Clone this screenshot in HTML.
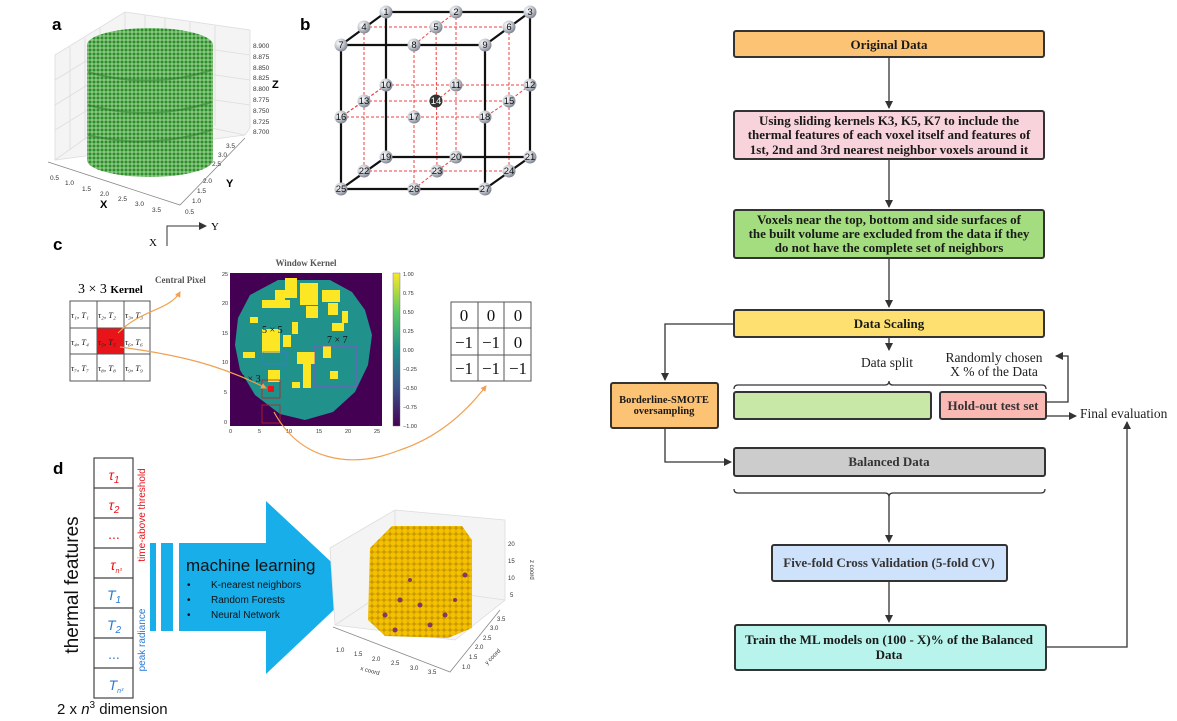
<!DOCTYPE html>
<html><head><meta charset="utf-8"><style>
html,body{margin:0;padding:0;background:#fff;}
svg{display:block;}
.fc{font-family:"Liberation Serif",serif;font-weight:bold;font-size:13px;fill:#1a1a1a;}
.sf{font-family:"Liberation Serif",serif;}
.ss{font-family:"Liberation Sans",sans-serif;}
</style></head><body>
<svg width="1177" height="721" viewBox="0 0 1177 721" xmlns="http://www.w3.org/2000/svg">
<defs>
<marker id="ah" markerWidth="8" markerHeight="8" refX="7" refY="4" orient="auto" markerUnits="userSpaceOnUse"><path d="M0,0 L8,4 L0,8 Z" fill="#333"/></marker>
<marker id="oh" markerWidth="6" markerHeight="6" refX="5" refY="3" orient="auto" markerUnits="userSpaceOnUse"><path d="M0,0 L6,3 L0,6 Z" fill="#f0a050"/></marker>
<pattern id="gd" width="4" height="4" patternUnits="userSpaceOnUse"><rect width="4" height="4" fill="#8cc884"/><circle cx="2" cy="2" r="1.5" fill="#2a8f2a"/></pattern>
<pattern id="yd" width="6" height="6" patternUnits="userSpaceOnUse"><rect width="6" height="6" fill="#c99a00"/><circle cx="3" cy="3" r="2.8" fill="#f5c000"/></pattern>
<linearGradient id="cb" x1="0" y1="1" x2="0" y2="0"><stop offset="0" stop-color="#440154"/><stop offset=".25" stop-color="#3b528b"/><stop offset=".5" stop-color="#21918c"/><stop offset=".75" stop-color="#5ec962"/><stop offset="1" stop-color="#fde725"/></linearGradient>
<radialGradient id="ball" cx=".35" cy=".35" r=".7"><stop offset="0" stop-color="#fff"/><stop offset=".5" stop-color="#c8ccd4"/><stop offset="1" stop-color="#7a808a"/></radialGradient>
</defs>

<!-- ========== Panel a ========== -->
<text x="52" y="30" class="ss" font-weight="bold" font-size="17">a</text>
<g stroke="#ddd" stroke-width="0.8" fill="none">
<path d="M55,55 L125,12 L250,30 L250,128 L245,135 L55,160 Z" fill="#f4f4f4"/>
<path d="M125,12 L125,110 L55,160 M125,110 L245,135"/>
<path d="M70,47 L70,150 M85,38 L85,140 M100,28 L100,130 M145,15 L145,113 M165,18 L165,117 M190,22 L190,122 M215,26 L215,126"/>
<path d="M55,80 L125,37 L250,55 M55,105 L125,62 L250,80 M55,130 L125,87 L250,105"/>
</g>
<path d="M48,162 L180,205 L245,138" stroke="#888" fill="none" stroke-width="0.8"/>
<g fill="url(#gd)">
<ellipse cx="150" cy="160" rx="63" ry="17"/>
<rect x="87" y="45" width="126" height="115"/>
<ellipse cx="150" cy="45" rx="63" ry="17"/>
</g>
<g stroke="#2a7a2a" stroke-width="2" fill="none" opacity=".5"><path d="M88,72 Q150,90 212,70 M88,105 Q150,122 212,102 M88,135 Q150,150 212,130"/></g>
<g class="ss" font-size="6.5" fill="#333">
<text x="253" y="48">8.900</text><text x="253" y="59">8.875</text><text x="253" y="70">8.850</text><text x="253" y="80">8.825</text><text x="253" y="91">8.800</text><text x="253" y="102">8.775</text><text x="253" y="113">8.750</text><text x="253" y="124">8.725</text><text x="253" y="134">8.700</text>
<text x="50" y="180">0.5</text><text x="65" y="185">1.0</text><text x="82" y="191">1.5</text><text x="100" y="196">2.0</text><text x="118" y="201">2.5</text><text x="135" y="206">3.0</text><text x="152" y="212">3.5</text>
<text x="185" y="214">0.5</text><text x="192" y="203">1.0</text><text x="197" y="193">1.5</text><text x="203" y="183">2.0</text><text x="212" y="166">2.5</text><text x="218" y="157">3.0</text><text x="226" y="148">3.5</text>
</g>
<text x="272" y="88" class="ss" font-weight="bold" font-size="11">Z</text>
<text x="100" y="208" class="ss" font-weight="bold" font-size="11">X</text>
<text x="226" y="187" class="ss" font-weight="bold" font-size="11">Y</text>
<path d="M167,246 L167,226 L206,226" stroke="#333" fill="none" stroke-width="1" marker-end="url(#ah)"/>
<text x="211" y="230" class="sf" font-size="11">Y</text>
<text x="149" y="246" class="sf" font-size="11">X</text>

<!-- ========== Panel b ========== -->
<text x="300" y="30" class="ss" font-weight="bold" font-size="17">b</text>
<g stroke="#f04040" stroke-width="1" stroke-dasharray="3,2" fill="none">
<path d="M364,27 L509,27 M364,101 L509,101 M364,171 L509,171 M386,85 L530,85 M341,117 L485,117 M456,12 L436,27 L414,45 M530,85 L509,101 L485,117 M456,157 L437,171 L414,189 M386,85 L364,101 L341,117"/>
<path d="M364,27 L364,171 M436,27 L437,171 M509,27 L509,171 M414,45 L414,189 M456,12 L456,157 M386,85 L341,117 M436,101 L456,85"/>
</g>
<g stroke="#111" stroke-width="2.2" fill="none">
<path d="M341,45 L485,45 L485,189 L341,189 Z M386,12 L530,12 L530,157 M386,12 L386,157 L530,157 M386,12 L341,45 M530,12 L485,45 M530,157 L485,189 M386,157 L341,189"/>
</g>
<g class="ss" font-size="9.5" text-anchor="middle" fill="#111">
<g fill="url(#ball)">
<circle cx="386" cy="12" r="6.5"/><circle cx="456" cy="12" r="6.5"/><circle cx="530" cy="12" r="6.5"/>
<circle cx="364" cy="27" r="6.5"/><circle cx="436" cy="27" r="6.5"/><circle cx="509" cy="27" r="6.5"/>
<circle cx="341" cy="45" r="6.5"/><circle cx="414" cy="45" r="6.5"/><circle cx="485" cy="45" r="6.5"/>
<circle cx="386" cy="85" r="6.5"/><circle cx="456" cy="85" r="6.5"/><circle cx="530" cy="85" r="6.5"/>
<circle cx="364" cy="101" r="6.5"/><circle cx="509" cy="101" r="6.5"/>
<circle cx="341" cy="117" r="6.5"/><circle cx="414" cy="117" r="6.5"/><circle cx="485" cy="117" r="6.5"/>
<circle cx="386" cy="157" r="6.5"/><circle cx="456" cy="157" r="6.5"/><circle cx="530" cy="157" r="6.5"/>
<circle cx="364" cy="171" r="6.5"/><circle cx="437" cy="171" r="6.5"/><circle cx="509" cy="171" r="6.5"/>
<circle cx="341" cy="189" r="6.5"/><circle cx="414" cy="189" r="6.5"/><circle cx="485" cy="189" r="6.5"/>
</g>
<circle cx="436" cy="101" r="6.5" fill="#333"/>
<text x="386" y="15">1</text><text x="456" y="15">2</text><text x="530" y="15">3</text>
<text x="364" y="30">4</text><text x="436" y="30">5</text><text x="509" y="30">6</text>
<text x="341" y="48">7</text><text x="414" y="48">8</text><text x="485" y="48">9</text>
<text x="386" y="88">10</text><text x="456" y="88">11</text><text x="530" y="88">12</text>
<text x="364" y="104">13</text><text x="436" y="104" fill="#fff">14</text><text x="509" y="104">15</text>
<text x="341" y="120">16</text><text x="414" y="120">17</text><text x="485" y="120">18</text>
<text x="386" y="160">19</text><text x="456" y="160">20</text><text x="530" y="160">21</text>
<text x="364" y="174">22</text><text x="437" y="174">23</text><text x="509" y="174">24</text>
<text x="341" y="192">25</text><text x="414" y="192">26</text><text x="485" y="192">27</text>
</g>

<!-- ========== Panel c ========== -->
<text x="53" y="250" class="ss" font-weight="bold" font-size="17">c</text>
<text x="78" y="293" class="sf" font-size="14">3 × 3 <tspan font-size="11" font-weight="bold">Kernel</tspan></text>
<text x="155" y="283" class="sf" font-size="9" font-weight="bold" fill="#555">Central Pixel</text>
<rect x="97" y="328" width="27" height="26" fill="#e8141a"/>
<g stroke="#555" stroke-width="1" fill="none"><rect x="70" y="301" width="80" height="80"/><path d="M97,301V381M124,301V381M70,328H150M70,354H150"/></g>
<g class="sf" font-size="8.5" font-style="italic" fill="#222">
<text x="71" y="318">τ₁, T₁</text><text x="98" y="318">τ₂, T₂</text><text x="125" y="318">τ₃, T₃</text>
<text x="71" y="345">τ₄, T₄</text><text x="98" y="345">τ₅, T₅</text><text x="125" y="345">τ₆, T₆</text>
<text x="71" y="371">τ₇, T₇</text><text x="98" y="371">τ₈, T₈</text><text x="125" y="371">τ₉, T₉</text>
</g>
<path d="M118,333 C140,310 170,310 180,292" stroke="#f0a050" fill="none" stroke-width="1.2" marker-end="url(#oh)"/>
<text x="306" y="266" class="sf" font-size="9" font-weight="bold" fill="#555" text-anchor="middle">Window Kernel</text>
<rect x="230" y="273" width="152" height="153" fill="#440154"/>
<path d="M278,280 L330,280 L352,292 L365,310 L372,335 L368,365 L355,392 L333,412 L305,420 L280,414 L255,395 L240,370 L235,345 L238,318 L250,295 Z" fill="#21918c"/>
<g fill="#fde725">
<rect x="285" y="278" width="12" height="20"/><rect x="300" y="283" width="18" height="22"/><rect x="262" y="300" width="28" height="8"/><rect x="275" y="290" width="10" height="10"/><rect x="322" y="290" width="18" height="12"/><rect x="328" y="303" width="10" height="12"/><rect x="250" y="317" width="8" height="6"/><rect x="306" y="306" width="12" height="12"/><rect x="342" y="311" width="6" height="12"/><rect x="332" y="323" width="12" height="8"/>
<rect x="262" y="329" width="18" height="24"/><rect x="283" y="335" width="8" height="12"/><rect x="292" y="322" width="6" height="12"/><rect x="297" y="352" width="18" height="12"/><rect x="303" y="364" width="8" height="24"/><rect x="323" y="346" width="8" height="12"/><rect x="268" y="370" width="12" height="12"/><rect x="330" y="371" width="8" height="8"/><rect x="243" y="352" width="12" height="6"/><rect x="292" y="382" width="8" height="6"/>
</g>
<g fill="none" stroke-width="0.8">
<rect x="263" y="352" width="24" height="12" stroke="#3a7bd5"/>
<rect x="315" y="346" width="41" height="41" stroke="#a040e0"/>
<rect x="262" y="380" width="18" height="18" stroke="#c02020"/>
<rect x="262" y="405" width="18" height="18" stroke="#c02020"/>
</g>
<rect x="268" y="386" width="6" height="6" fill="#e8141a"/>
<text x="262" y="333" class="sf" font-size="10" fill="#111">5 × 5</text>
<text x="327" y="343" class="sf" font-size="10" fill="#111">7 × 7</text>
<text x="240" y="382" class="sf" font-size="10" fill="#111">3 × 3</text>
<g class="ss" font-size="5.5" fill="#333">
<text x="222" y="276">25</text><text x="222" y="305">20</text><text x="222" y="335">15</text><text x="222" y="364">10</text><text x="224" y="394">5</text><text x="224" y="424">0</text>
<text x="229" y="433">0</text><text x="258" y="433">5</text><text x="286" y="433">10</text><text x="316" y="433">15</text><text x="345" y="433">20</text><text x="374" y="433">25</text>
</g>
<rect x="393" y="273" width="7" height="153" fill="url(#cb)" stroke="#666" stroke-width=".4"/>
<g class="ss" font-size="5.5" fill="#333">
<text x="403" y="276">1.00</text><text x="403" y="295">0.75</text><text x="403" y="314">0.50</text><text x="403" y="333">0.25</text><text x="403" y="352">0.00</text><text x="403" y="371">−0.25</text><text x="403" y="390">−0.50</text><text x="403" y="409">−0.75</text><text x="403" y="428">−1.00</text>
</g>
<path d="M120,347 C180,355 220,365 266,388" stroke="#f0a050" fill="none" stroke-width="1.2" marker-end="url(#oh)"/>
<path d="M274,412 C300,460 350,470 400,450 C430,440 460,420 486,386" stroke="#f0a050" fill="none" stroke-width="1.2" marker-end="url(#oh)"/>
<g stroke="#555" stroke-width="1" fill="none"><rect x="451" y="302" width="80" height="79"/><path d="M478,302V381M504,302V381M451,328H531M451,355H531"/></g>
<g class="sf" font-size="17" fill="#111" text-anchor="middle">
<text x="464" y="321">0</text><text x="491" y="321">0</text><text x="518" y="321">0</text>
<text x="464" y="348">−1</text><text x="491" y="348">−1</text><text x="518" y="348">0</text>
<text x="464" y="374">−1</text><text x="491" y="374">−1</text><text x="518" y="374">−1</text>
</g>

<!-- ========== Panel d ========== -->
<text x="53" y="474" class="ss" font-weight="bold" font-size="17">d</text>
<g stroke="#444" stroke-width="1.2" fill="none"><rect x="94" y="458" width="39" height="240"/><path d="M94,488H133M94,518H133M94,548H133M94,578H133M94,608H133M94,638H133M94,668H133"/></g>
<g class="ss" font-size="14" font-style="italic" text-anchor="middle">
<text x="114" y="480" fill="#e8141a">τ<tspan font-size="10" dy="3">1</tspan></text>
<text x="114" y="510" fill="#e8141a">τ<tspan font-size="10" dy="3">2</tspan></text>
<text x="114" y="539" fill="#e8141a" font-style="normal">...</text>
<text x="116" y="570" fill="#e8141a">τ<tspan font-size="7" dy="3">n³</tspan></text>
<text x="114" y="600" fill="#2a7ad5">T<tspan font-size="10" dy="3">1</tspan></text>
<text x="114" y="630" fill="#2a7ad5">T<tspan font-size="10" dy="3">2</tspan></text>
<text x="114" y="659" fill="#2a7ad5" font-style="normal">...</text>
<text x="116" y="690" fill="#2a7ad5">T<tspan font-size="7" dy="3">n³</tspan></text>
</g>
<text transform="translate(78,585) rotate(-90)" class="ss" font-size="19" text-anchor="middle" fill="#111">thermal features</text>
<text transform="translate(145,515) rotate(-90)" class="ss" font-size="10" text-anchor="middle" fill="#e8141a">time-above threshold</text>
<text transform="translate(145,640) rotate(-90)" class="ss" font-size="10" text-anchor="middle" fill="#2a7ad5">peak radiance</text>
<text x="57" y="714" class="ss" font-size="15" fill="#111">2 x <tspan font-style="italic">n</tspan><tspan font-size="10" dy="-6">3</tspan><tspan dy="6"> dimension</tspan></text>
<g fill="#17aeea">
<rect x="150" y="543" width="6" height="88"/><rect x="161" y="543" width="12" height="88"/>
<path d="M179,543 L266,543 L266,501 L358,587 L266,674 L266,631 L179,631 Z"/>
</g>
<text x="186" y="571" class="ss" font-size="17" fill="#111">machine learning</text>
<g class="ss" font-size="10" fill="#111">
<text x="187" y="588">•</text><text x="211" y="588">K-nearest neighbors</text>
<text x="187" y="603">•</text><text x="211" y="603">Random Forests</text>
<text x="187" y="618">•</text><text x="211" y="618">Neural Network</text>
</g>
<g stroke="#ddd" stroke-width=".8" fill="none">
<path d="M330,548 L395,510 L505,520 L505,600 L455,640 L335,625 Z" fill="#f4f4f4"/>
<path d="M395,510 L395,585 L335,625 M395,585 L505,600"/>
</g>
<path d="M333,627 L450,672 L500,610" stroke="#888" fill="none" stroke-width=".8"/>
<path d="M370,548 L392,526 L462,526 L472,540 L472,628 L448,638 L385,636 L368,620 Z" fill="url(#yd)"/>
<g fill="#6a1a7a" opacity=".8"><circle cx="400" cy="600" r="2.5"/><circle cx="420" cy="605" r="2.5"/><circle cx="445" cy="615" r="2.5"/><circle cx="385" cy="615" r="2.5"/><circle cx="465" cy="575" r="2.5"/><circle cx="410" cy="580" r="2"/><circle cx="430" cy="625" r="2.5"/><circle cx="455" cy="600" r="2"/><circle cx="395" cy="630" r="2.5"/></g>
<g class="ss" font-size="6" fill="#333">
<text x="336" y="652">1.0</text><text x="354" y="656">1.5</text><text x="372" y="661">2.0</text><text x="391" y="665">2.5</text><text x="410" y="670">3.0</text><text x="428" y="674">3.5</text>
<text x="462" y="669">1.0</text><text x="469" y="659">1.5</text><text x="475" y="649">2.0</text><text x="483" y="640">2.5</text><text x="490" y="630">3.0</text><text x="497" y="621">3.5</text>
<text x="508" y="546">20</text><text x="508" y="563">15</text><text x="508" y="580">10</text><text x="510" y="597">5</text>
<text transform="translate(360,670) rotate(15)">x coord</text>
<text transform="translate(487,665) rotate(-45)">y coord</text>
<text transform="translate(530,560) rotate(90)">z coord</text>
</g>

<!-- ========== Flowchart ========== -->
<g stroke="#333" stroke-width="1.3" fill="none">
<line x1="889" y1="57" x2="889" y2="108" marker-end="url(#ah)"/>
<line x1="889" y1="159" x2="889" y2="207" marker-end="url(#ah)"/>
<line x1="889" y1="258" x2="889" y2="307" marker-end="url(#ah)"/>
<line x1="889" y1="337" x2="889" y2="350" marker-end="url(#ah)"/>
<path d="M734,324 L665,324 L665,380" marker-end="url(#ah)"/>
<path d="M665,428 L665,462 L731,462" marker-end="url(#ah)"/>
<path d="M1046,402 L1068,402 L1068,356 L1056,356" marker-end="url(#ah)"/>
<path d="M1046,416 L1076,416" marker-end="url(#ah)"/>
<path d="M734,389 Q734,385 738,385 L885,385 Q889,385 889,381 Q889,385 893,385 L1042,385 Q1046,385 1046,389"/>
<path d="M734,489 Q734,493 738,493 L885,493 Q889,493 889,497 Q889,493 893,493 L1041,493 Q1045,493 1045,489"/>
<line x1="889" y1="497" x2="889" y2="542" marker-end="url(#ah)"/>
<line x1="889" y1="581" x2="889" y2="622" marker-end="url(#ah)"/>
<path d="M1046,647 L1127,647 L1127,422" marker-end="url(#ah)"/>
</g>
<g stroke="#333" stroke-width="2">
<rect x="734" y="31" width="310" height="26" rx="2" fill="#fdc375"/>
<rect x="734" y="111" width="310" height="48" rx="2" fill="#f9d3dc"/>
<rect x="734" y="210" width="310" height="48" rx="2" fill="#a4dd7f"/>
<rect x="734" y="310" width="310" height="27" rx="2" fill="#fde06f"/>
<rect x="611" y="383" width="107" height="45" rx="2" fill="#fdc375"/>
<rect x="734" y="392" width="197" height="27" rx="2" fill="#c8e8a8"/>
<rect x="940" y="392" width="106" height="27" rx="2" fill="#fbb9b4"/>
<rect x="734" y="448" width="311" height="28" rx="2" fill="#cccccc"/>
<rect x="772" y="545" width="235" height="36" rx="2" fill="#cfe2fb"/>
<rect x="735" y="625" width="311" height="45" rx="2" fill="#b8f3ec"/>
</g>
<g class="fc" text-anchor="middle">
<text x="889" y="49">Original Data</text>
<text x="889" y="125">Using sliding kernels K3, K5, K7 to include the</text>
<text x="889" y="139">thermal features of each voxel itself and features of</text>
<text x="889" y="154">1st, 2nd and 3rd nearest neighbor voxels around it</text>
<text x="889" y="224">Voxels near the top, bottom and side surfaces of</text>
<text x="889" y="238">the built volume are excluded from the data if they</text>
<text x="889" y="252">do not have the complete set of neighbors</text>
<text x="889" y="328">Data Scaling</text>
<text x="664" y="403" font-size="10.5">Borderline-SMOTE</text>
<text x="664" y="414" font-size="10.5">oversampling</text>
<text x="993" y="410" fill="#333">Hold-out test set</text>
<text x="889" y="466" fill="#333">Balanced Data</text>
<text x="889" y="567" fill="#333">Five-fold Cross Validation (5-fold CV)</text>
<text x="889" y="644">Train the ML models on (100 - X)% of the Balanced</text>
<text x="889" y="659">Data</text>
</g>
<g class="sf" font-size="13.5" fill="#222" text-anchor="middle">
<text x="887" y="367">Data split</text>
<text x="994" y="362">Randomly chosen</text>
<text x="994" y="376">X % of the Data</text>
</g>
<text x="1080" y="418" class="sf" font-size="13.5" fill="#222">Final evaluation</text>
</svg>
</body></html>
